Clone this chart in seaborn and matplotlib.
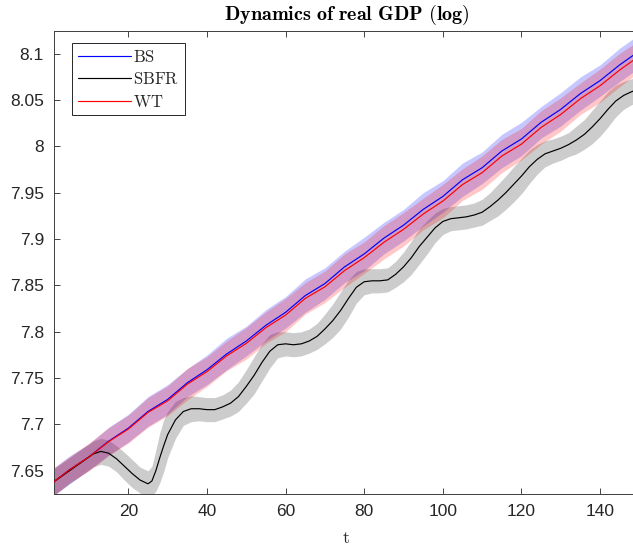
import seaborn as sns
import matplotlib.pyplot as plt

# BS and WT paths (every 5 periods)
t_grid = [1, 5, 10, 15, 20, 25, 30, 35, 40, 45, 50, 55, 60, 65, 70, 75,
          80, 85, 90, 95, 100, 105, 110, 115, 120, 125, 130, 135, 140, 145, 150]
bs = [7.638, 7.651, 7.665, 7.682, 7.696, 7.714, 7.727, 7.745, 7.759, 7.776,
      7.790, 7.807, 7.821, 7.839, 7.852, 7.870, 7.884, 7.901, 7.915, 7.932,
      7.946, 7.964, 7.977, 7.995, 8.008, 8.026, 8.040, 8.057, 8.071, 8.088, 8.103]
wt = [7.638, 7.651, 7.665, 7.6815, 7.695, 7.713, 7.7255, 7.7435, 7.757, 7.774,
      7.7875, 7.8045, 7.818, 7.836, 7.8485, 7.866, 7.880, 7.8965, 7.9105, 7.927,
      7.941, 7.9588, 7.9717, 7.9896, 8.0025, 8.0205, 8.0345, 8.0515, 8.0655, 8.0825, 8.0975]
bs_hw = [0.015, 0.015, 0.014, 0.015, 0.015, 0.016, 0.016, 0.015, 0.016, 0.017,
         0.016, 0.017, 0.017, 0.018, 0.017, 0.017, 0.018, 0.017, 0.017, 0.018,
         0.017, 0.018, 0.017, 0.018, 0.018, 0.017, 0.018, 0.018, 0.017, 0.018, 0.018]
wt_hw = [0.015, 0.014, 0.015, 0.015, 0.015, 0.016, 0.016, 0.017, 0.016, 0.016,
         0.017, 0.017, 0.018, 0.017, 0.017, 0.018, 0.017, 0.018, 0.018, 0.017,
         0.018, 0.017, 0.018, 0.018, 0.017, 0.018, 0.018, 0.017, 0.018, 0.018, 0.017]

# SBFR path, denser because of the waves
sbfr_t = [1, 3, 5, 7, 9, 11, 13, 15, 17, 19, 21, 23, 25, 26, 27, 28, 29, 30,
          32, 34, 36, 38, 40, 42, 44, 46, 48, 50, 52, 54, 56, 58, 60, 62, 64, 66,
          68, 70, 72, 74, 76, 78, 80, 82, 84, 86, 88, 90, 92, 94, 96, 98, 100,
          102, 104, 106, 108, 110, 112, 114, 116, 118, 120, 122, 124, 126, 128,
          130, 132, 134, 136, 138, 140, 142, 144, 146, 148, 150]
sbfr = [7.638, 7.644, 7.650, 7.656, 7.662, 7.668, 7.671, 7.669, 7.663, 7.655,
        7.647, 7.640, 7.636, 7.639, 7.650, 7.664, 7.677, 7.689,
        7.705, 7.714, 7.717, 7.717, 7.716, 7.716, 7.719, 7.723, 7.730, 7.741,
        7.753, 7.767, 7.779, 7.786, 7.787, 7.786, 7.787, 7.790, 7.795, 7.803,
        7.812, 7.823, 7.836, 7.848, 7.854, 7.855, 7.855, 7.856, 7.862, 7.870,
        7.880, 7.892, 7.902, 7.912, 7.919, 7.922, 7.923, 7.924, 7.926, 7.929,
        7.935, 7.942, 7.950, 7.959, 7.968, 7.978, 7.986, 7.992, 7.995, 7.998,
        8.002, 8.007, 8.013, 8.021, 8.030, 8.040, 8.049, 8.055, 8.059, 8.062]
sbfr_hw = [0.014, 0.014, 0.014, 0.014, 0.014, 0.014, 0.014, 0.014, 0.014, 0.015,
           0.015, 0.014, 0.014, 0.016, 0.022, 0.027, 0.028, 0.025,
           0.020, 0.015, 0.014, 0.013, 0.013, 0.013, 0.013, 0.014, 0.016, 0.018,
           0.020, 0.020, 0.018, 0.014, 0.013, 0.013, 0.013, 0.013, 0.014, 0.016,
           0.018, 0.020, 0.020, 0.017, 0.014, 0.013, 0.013, 0.013, 0.014, 0.016,
           0.018, 0.019, 0.018, 0.016, 0.014, 0.013, 0.013, 0.013, 0.013, 0.014,
           0.015, 0.017, 0.018, 0.019, 0.019, 0.018, 0.016, 0.014, 0.013, 0.013,
           0.013, 0.015, 0.016, 0.018, 0.019, 0.019, 0.017, 0.015, 0.014, 0.014]

x_ticks = [20, 40, 60, 80, 100, 120, 140]
y_ticks = [7.65, 7.7, 7.75, 7.8, 7.85, 7.9, 7.95, 8.0, 8.05, 8.1]
y_labels = ['7.65', '7.7', '7.75', '7.8', '7.85', '7.9', '7.95', '8', '8.05', '8.1']

sns.set_theme(style='white')
plt.rcParams['font.family'] = ['Liberation Sans', 'DejaVu Sans']
plt.rcParams['mathtext.fontset'] = 'cm'

fig = plt.figure(figsize=(6.33, 5.47), dpi=100)
ax = fig.add_axes([53.6 / 633, 1 - 494 / 547, 585.8 / 633, 463 / 547])

# shaded bands first
ax.fill_between(sbfr_t, [v - h for v, h in zip(sbfr, sbfr_hw)],
                [v + h for v, h in zip(sbfr, sbfr_hw)],
                color='#cccccc', lw=0, zorder=1)
ax.fill_between(t_grid, [v - h for v, h in zip(bs, bs_hw)],
                [v + h for v, h in zip(bs, bs_hw)],
                color='blue', alpha=0.22, lw=0, zorder=2)
ax.fill_between(t_grid, [v - h for v, h in zip(wt, wt_hw)],
                [v + h for v, h in zip(wt, wt_hw)],
                color='red', alpha=0.22, lw=0, zorder=2)

sns.lineplot(x=t_grid, y=bs, color='blue', lw=0.85, ax=ax, zorder=3)
sns.lineplot(x=sbfr_t, y=sbfr, color='black', lw=0.85, ax=ax, zorder=3)
sns.lineplot(x=t_grid, y=wt, color='red', lw=0.85, ax=ax, zorder=3)
lines = ax.get_lines()

ax.set_xlim(1, 150)
ax.set_ylim(7.625, 8.1245)
ax.set_xticks(x_ticks)
ax.set_xticklabels([str(v) for v in x_ticks])
ax.set_yticks(y_ticks)
ax.set_yticklabels(y_labels)
ax.tick_params(direction='in', length=4, width=0.6, colors='#262626',
               labelsize=12.5, pad=7, top=True, right=True, bottom=True, left=True)
for s in ax.spines.values():
    s.set_color('#404040')
    s.set_linewidth(0.7)

ax.set_title(r'$\mathbf{Dynamics\ of\ real\ GDP\ (log)}$', fontsize=14.5, pad=8,
             color='black')
ax.set_xlabel(r'$\mathrm{t}$', fontsize=13, labelpad=8, color='#262626')

leg = ax.legend(lines[:3], [r'$\mathrm{BS}$', r'$\mathrm{SBFR}$', r'$\mathrm{WT}$'],
                loc='upper left', bbox_to_anchor=(0.031, 0.974), borderaxespad=0,
                fontsize=12, handlelength=3.2, handletextpad=0.15,
                labelspacing=0.38, borderpad=0.35, fancybox=False, framealpha=1)
leg.get_frame().set_edgecolor('#262626')
leg.get_frame().set_linewidth(0.7)

plt.savefig('out.png', dpi=100)
